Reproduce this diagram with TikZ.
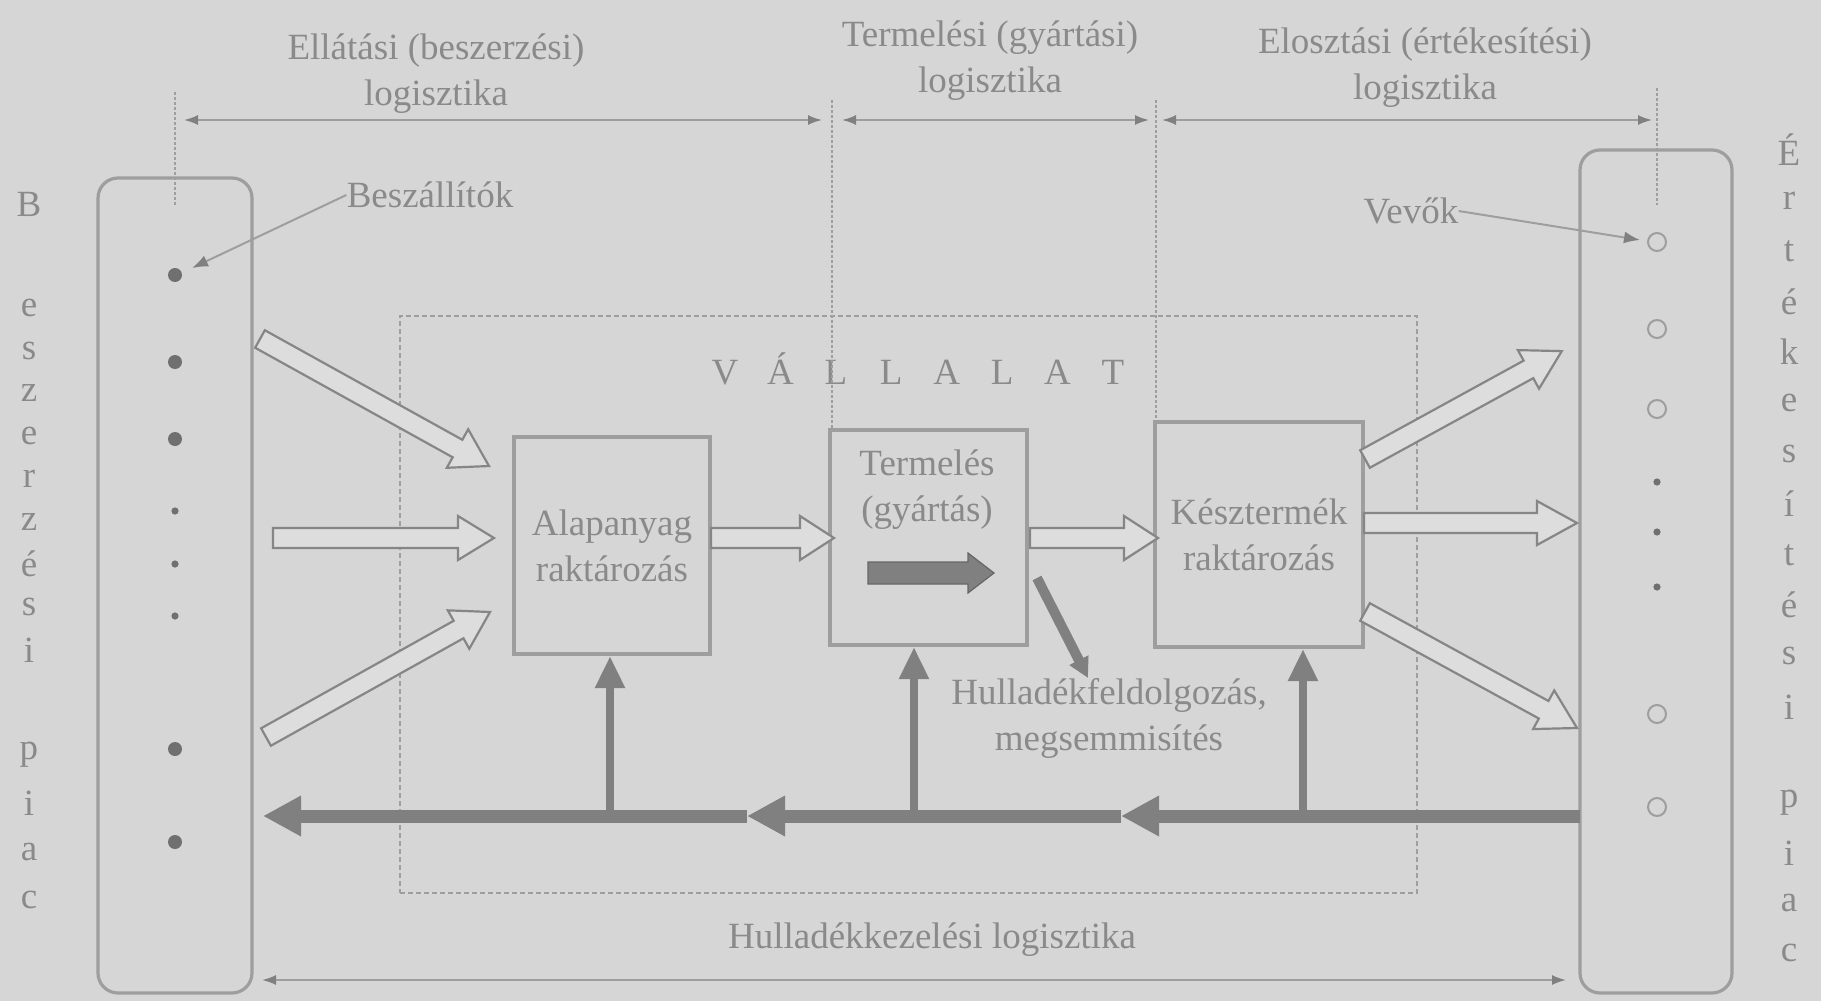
\documentclass[tikz,border=0pt]{standalone}
\usepackage{fontspec}
\setmainfont{Liberation Serif}
\usetikzlibrary{arrows.meta,calc}
\definecolor{bgc}{RGB}{214,214,214}
\definecolor{txt}{RGB}{138,138,138}
\definecolor{lin}{RGB}{158,158,158}
\definecolor{dark}{RGB}{128,128,128}
\definecolor{dotc}{RGB}{112,112,112}
\definecolor{hfill}{RGB}{221,221,221}
% #1 style, #2 from, #3 to, #4 half shaft, #5 half head, #6 head length
\newcommand\blockarrow[6]{%
  \path[#1] let \p1=($(#3)-(#2)$), \n1={atan2(\y1,\x1)}, \n2={veclen(\x1,\y1)} in
    [shift={(#2)}, rotate=\n1]
    (0pt,-#4) -- ({\n2*1pt-#6},-#4) -- ({\n2*1pt-#6},-#5) -- ({\n2*1pt},0pt)
    -- ({\n2*1pt-#6},#5) -- ({\n2*1pt-#6},#4) -- (0pt,#4) -- cycle;}
\begin{document}
\begin{tikzpicture}[x=0.5pt,y=-0.5pt,
  every node/.style={text=txt},
  lbl/.style={font=\fontsize{18.5}{23}\selectfont, align=center, inner sep=0pt},
  vlet/.style={font=\fontsize{18.5}{20}\selectfont, inner sep=0pt},
  mktbox/.style={draw=lin, line width=1.6pt, rounded corners=10pt, inner sep=0pt},
  vbox/.style={draw=lin, line width=1.3pt, dash pattern=on 2.5pt off 1.5pt, inner sep=0pt},
  procbox/.style={draw=lin, line width=1.6pt, align=center, inner sep=0pt,
    font=\fontsize{18.5}{23}\selectfont},
  bigdot/.style={circle, fill=dotc, inner sep=0pt, minimum size=7pt},
  smalldot/.style={circle, fill=dotc, inner sep=0pt, minimum size=3.6pt},
  opendot/.style={circle, draw=lin, line width=1pt, inner sep=0pt, minimum size=9pt},
  leader/.style={draw=lin, line width=1pt, -{Latex[length=8pt,width=6pt,color=dark]}},
  dimline/.style={draw=lin, line width=0.9pt,
    {Latex[length=7pt,width=5pt,color=dark]}-{Latex[length=7pt,width=5pt,color=dark]}},
  extline/.style={draw=lin, line width=0.7pt, dash pattern=on 1.5pt off 1pt},
  harrow/.style={draw=lin!85!black, fill=hfill, line width=1.1pt},
  smallblk/.style={fill=dark, draw=dark!80!black, line width=0.6pt},
  flowthick/.style={draw=dark, line width=6.5pt, -{Triangle[length=19pt,width=19pt]}},
  flowup/.style={draw=dark, line width=4pt, -{Triangle[length=16pt,width=14pt]}},
  flowdiag/.style={draw=dark, line width=5pt, -{Triangle[length=10pt,width=10pt]}}
]
\path[use as bounding box, fill=bgc] (0,0) rectangle (1821,1001);

% market boxes
\node[mktbox, minimum width=77pt, minimum height=407.5pt] (lmkt) at (175,585.5) {};
\node[mktbox, minimum width=76pt, minimum height=421.5pt] (rmkt) at (1656,571.5) {};

% company box
\node[vbox, minimum width=508.5pt, minimum height=288.5pt] (vall) at (908.5,604.5) {};
\node[lbl] (vtitle) at (919,369) {\makebox[27.7pt]{V}\makebox[27.7pt]{Á}\makebox[27.7pt]{L}\makebox[27.7pt]{L}\makebox[27.7pt]{A}\makebox[27.7pt]{L}\makebox[27.7pt]{A}\makebox[27.7pt]{T}};

% extension lines
\coordinate (ex1a) at (175,92);  \coordinate (ex1b) at (175,205);
\coordinate (ex2a) at (832,100); \coordinate (ex2b) at (832,430);
\coordinate (ex3a) at (1156,100);\coordinate (ex3b) at (1156,422);
\coordinate (ex4a) at (1657,88); \coordinate (ex4b) at (1657,205);
\draw[extline] (ex1a) -- (ex1b);
\draw[extline] (ex2a) -- (ex2b);
\draw[extline] (ex3a) -- (ex3b);
\draw[extline] (ex4a) -- (ex4b);

% process boxes
\node[procbox, minimum width=98pt, minimum height=108.5pt] (alap) at (612,545.5) {Alapanyag\\raktározás};
\node[procbox, minimum width=98.5pt, minimum height=107.5pt] (term) at (928.5,537.5) {};
\node[lbl] (termtxt) at (927,490) {Termelés\\(gyártás)};
\node[procbox, minimum width=104pt, minimum height=112.5pt] (kesz) at (1259,534.5) {Késztermék\\raktározás};

% top labels and dimension lines
\node[lbl] (ell) at (436,74) {Ellátási (beszerzési)\\logisztika};
\node[lbl] (ter) at (990,61) {Termelési (gyártási)\\logisztika};
\node[lbl] (elo) at (1425,68) {Elosztási (értékesítési)\\logisztika};
\coordinate (d1a) at (184,120);  \coordinate (d1b) at (822,120);
\coordinate (d2a) at (842,120);  \coordinate (d2b) at (1149,120);
\coordinate (d3a) at (1162,120); \coordinate (d3b) at (1652,120);
\draw[dimline] (d1a) -- (d1b);
\draw[dimline] (d2a) -- (d2b);
\draw[dimline] (d3a) -- (d3b);

% dots
\foreach \yy [count=\i] in {275,362,439,749,842} \node[bigdot] (ld\i) at (175,\yy) {};
\foreach \yy [count=\i] in {511,564,616} \node[smalldot] (lsd\i) at (175,\yy) {};
\foreach \yy [count=\i] in {242,329,409,714,807} \node[opendot] (rd\i) at (1657,\yy) {};
\foreach \yy [count=\i] in {482,532,587} \node[smalldot] (rsd\i) at (1657,\yy) {};

% leaders
\node[lbl] (besz) at (430,195) {Beszállítók};
\coordinate (beszTip) at (192,268);
\draw[leader] (besz.west) -- (beszTip);
\node[lbl] (vevok) at (1411,211) {Vevők};
\coordinate (vevoTip) at (1640,240);
\draw[leader] (vevok.east) -- (vevoTip);

% vertical letters
\foreach \ch/\yy [count=\i] in {B/204,e/308,s/351,z/393,e/436,r/479,z/522,é/564,s/607,i/650,p/755,i/803,a/852,c/900}
  \node[vlet] (lv\i) at (29,\yy) {\ch};
\foreach \ch/\yy [count=\i] in {É/150,r/201,t/251,é/302,k/352,e/403,s/454,í/504,t/555,é/605,s/656,i/707,p/803,i/853,a/903,c/953}
  \node[vlet] (rv\i) at (1789,\yy) {\ch};

% hollow flow arrows
\coordinate (a1s) at (260,339);  \coordinate (a1e) at (489,466);
\coordinate (a2s) at (273,538);  \coordinate (a2e) at (494,538);
\coordinate (a3s) at (266,737);  \coordinate (a3e) at (490,612);
\coordinate (a4s) at (711,538);  \coordinate (a4e) at (834,538);
\coordinate (a5s) at (1030,538); \coordinate (a5e) at (1158,538);
\coordinate (a6s) at (1365,459); \coordinate (a6e) at (1562,351);
\coordinate (a7s) at (1364,523); \coordinate (a7e) at (1577,523);
\coordinate (a8s) at (1365,612); \coordinate (a8e) at (1577,728);
\blockarrow{harrow}{a1s}{a1e}{5pt}{11pt}{18pt}
\blockarrow{harrow}{a2s}{a2e}{5pt}{11pt}{18pt}
\blockarrow{harrow}{a3s}{a3e}{5pt}{11pt}{18pt}
\blockarrow{harrow}{a4s}{a4e}{5pt}{11pt}{17pt}
\blockarrow{harrow}{a5s}{a5e}{5pt}{11pt}{17pt}
\blockarrow{harrow}{a6s}{a6e}{5pt}{11pt}{19pt}
\blockarrow{harrow}{a7s}{a7e}{5pt}{11pt}{20pt}
\blockarrow{harrow}{a8s}{a8e}{5pt}{11pt}{19pt}

% small production arrow
\coordinate (sbs) at (868,573); \coordinate (sbe) at (994,573);
\blockarrow{smallblk}{sbs}{sbe}{5.5pt}{10pt}{13pt}

% waste
\coordinate (dgs) at (1037,578); \coordinate (dge) at (1088,678);
\draw[flowdiag] (dgs) -- (dge);
\node[lbl] (hfeld) at (1109,718) {Hulladékfeldolgozás,\\megsemmisítés};

% return line
\coordinate (retR) at (1580,816); \coordinate (retM2) at (1121,816);
\coordinate (retM1) at (747,816); \coordinate (retL) at (263,816);
\draw[flowthick] (retR) -- (retM2);
\draw[flowthick] (retM2) -- (retM1);
\draw[flowthick] (retM1) -- (retL);
\coordinate (u1b) at (610,816);  \coordinate (u1t) at (610,656);
\coordinate (u2b) at (914,816);  \coordinate (u2t) at (914,647);
\coordinate (u3b) at (1303,816); \coordinate (u3t) at (1303,649);
\draw[flowup] (u1b) -- (u1t);
\draw[flowup] (u2b) -- (u2t);
\draw[flowup] (u3b) -- (u3t);

% bottom
\node[lbl] (hkez) at (932,940) {Hulladékkezelési logisztika};
\coordinate (bdl) at (262,980); \coordinate (bdr) at (1566,980);
\draw[dimline] (bdl) -- (bdr);
\end{tikzpicture}
\end{document}
